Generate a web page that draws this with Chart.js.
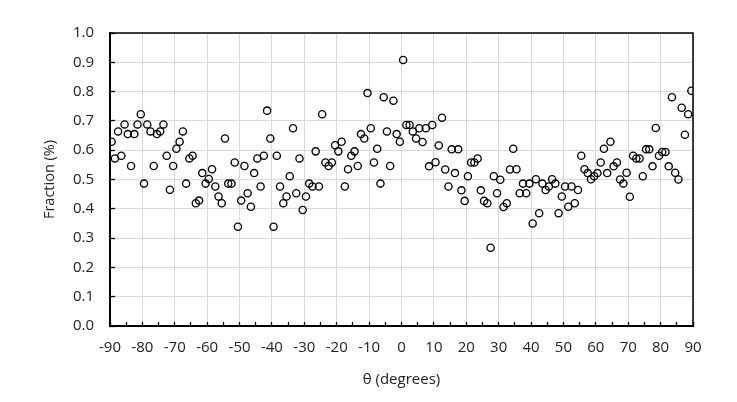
<!DOCTYPE html>
<html>
<head>
<meta charset="utf-8">
<script src="https://cdn.jsdelivr.net/npm/chart.js@4.4.1/dist/chart.umd.min.js"></script>
<style>
  html, body { margin: 0; padding: 0; background: #fff; }
  #wrap { width: 737px; height: 402px; }
</style>
</head>
<body>
<div id="wrap"><canvas id="c" width="737" height="402"></canvas></div>
<script>
const angles = [
  -89.5, -88.5, -87.5, -86.5, -85.5, -84.5, -83.5, -82.5, -81.5, -80.5,
  -79.5, -78.5, -77.5, -76.5, -75.5, -74.5, -73.5, -72.5, -71.5, -70.5,
  -69.5, -68.5, -67.5, -66.5, -65.5, -64.5, -63.5, -62.5, -61.5, -60.5,
  -59.5, -58.5, -57.5, -56.5, -55.5, -54.5, -53.5, -52.5, -51.5, -50.5,
  -49.5, -48.5, -47.5, -46.5, -45.5, -44.5, -43.5, -42.5, -41.5, -40.5,
  -39.5, -38.5, -37.5, -36.5, -35.5, -34.5, -33.5, -32.5, -31.5, -30.5,
  -29.5, -28.5, -27.5, -26.5, -25.5, -24.5, -23.5, -22.5, -21.5, -20.5,
  -19.5, -18.5, -17.5, -16.5, -15.5, -14.5, -13.5, -12.5, -11.5, -10.5,
  -9.5, -8.5, -7.5, -6.5, -5.5, -4.5, -3.5, -2.5, -1.5, -0.5,
  0.5, 1.5, 2.5, 3.5, 4.5, 5.5, 6.5, 7.5, 8.5, 9.5,
  10.5, 11.5, 12.5, 13.5, 14.5, 15.5, 16.5, 17.5, 18.5, 19.5,
  20.5, 21.5, 22.5, 23.5, 24.5, 25.5, 26.5, 27.5, 28.5, 29.5,
  30.5, 31.5, 32.5, 33.5, 34.5, 35.5, 36.5, 37.5, 38.5, 39.5,
  40.5, 41.5, 42.5, 43.5, 44.5, 45.5, 46.5, 47.5, 48.5, 49.5,
  50.5, 51.5, 52.5, 53.5, 54.5, 55.5, 56.5, 57.5, 58.5, 59.5,
  60.5, 61.5, 62.5, 63.5, 64.5, 65.5, 66.5, 67.5, 68.5, 69.5,
  70.5, 71.5, 72.5, 73.5, 74.5, 75.5, 76.5, 77.5, 78.5, 79.5,
  80.5, 81.5, 82.5, 83.5, 84.5, 85.5, 86.5, 87.5, 88.5, 89.5
];

const fractions = [
  0.629, 0.572, 0.664, 0.581, 0.688, 0.655, 0.546, 0.655, 0.688, 0.723,
  0.486, 0.688, 0.664, 0.546, 0.655, 0.664, 0.688, 0.581, 0.465, 0.546,
  0.605, 0.629, 0.664, 0.486, 0.572, 0.581, 0.419, 0.428, 0.522, 0.486,
  0.502, 0.535, 0.476, 0.442, 0.419, 0.640, 0.486, 0.486, 0.558, 0.339,
  0.428, 0.546, 0.453, 0.407, 0.522, 0.572, 0.476, 0.581, 0.735, 0.640,
  0.339, 0.581, 0.476, 0.419, 0.442, 0.511, 0.675, 0.453, 0.572, 0.396,
  0.442, 0.486, 0.476, 0.596, 0.476, 0.723, 0.558, 0.546, 0.558, 0.617,
  0.596, 0.629, 0.476, 0.535, 0.581, 0.596, 0.546, 0.655, 0.640, 0.795,
  0.675, 0.558, 0.605, 0.486, 0.781, 0.664, 0.546, 0.769, 0.655, 0.629,
  0.908, 0.686, 0.686, 0.664, 0.640, 0.675, 0.628, 0.675, 0.545, 0.686,
  0.559, 0.616, 0.711, 0.534, 0.476, 0.603, 0.522, 0.603, 0.463, 0.427,
  0.511, 0.558, 0.558, 0.572, 0.463, 0.427, 0.419, 0.267, 0.511, 0.453,
  0.499, 0.406, 0.419, 0.534, 0.605, 0.535, 0.453, 0.486, 0.453, 0.486,
  0.350, 0.501, 0.385, 0.486, 0.464, 0.476, 0.501, 0.486, 0.385, 0.442,
  0.476, 0.407, 0.476, 0.419, 0.464, 0.581, 0.535, 0.522, 0.501, 0.511,
  0.522, 0.558, 0.605, 0.522, 0.629, 0.545, 0.558, 0.500, 0.486, 0.523,
  0.441, 0.581, 0.572, 0.572, 0.511, 0.603, 0.603, 0.545, 0.676, 0.581,
  0.594, 0.594, 0.545, 0.781, 0.523, 0.500, 0.745, 0.653, 0.723, 0.803
];

const xTitle = 'θ (degrees)';
const yTitle = 'Fraction (%)';

const points = angles.map((a, i) => ({ x: a, y: fractions[i] }));

const frame = {
  id: 'frame',
  afterDatasetsDraw(chart) {
    const { ctx, chartArea: a } = chart;
    ctx.save();
    ctx.strokeStyle = '#000';
    ctx.lineWidth = 1.5;
    ctx.beginPath();
    ctx.moveTo(a.left, a.top);
    ctx.lineTo(a.right, a.top);
    ctx.lineTo(a.right, a.bottom);
    ctx.stroke();
    ctx.restore();
  }
};

const textColor = '#222';
const fontFamily = '"Open Sans", "DejaVu Sans", sans-serif';

new Chart(document.getElementById('c'), {
  type: 'scatter',
  data: {
    datasets: [{
      data: points,
      pointStyle: 'circle',
      pointRadius: 3.6,
      pointHoverRadius: 3.6,
      borderColor: '#000',
      backgroundColor: 'rgba(0,0,0,0)',
      borderWidth: 1.35
    }]
  },
  options: {
    responsive: false,
    animation: false,
    events: [],
    layout: { padding: { top: 33, right: 44, left: 0, bottom: 0 } },
    plugins: { legend: { display: false }, tooltip: { enabled: false } },
    scales: {
      x: {
        type: 'linear',
        min: -90, max: 90,
        afterFit(s) { s.height = 76; },
        ticks: {
          stepSize: 5,
          autoSkip: false,
          maxRotation: 0,
          padding: 17,
          color: textColor,
          font: { family: fontFamily, size: 15 },
          callback: v => (Math.round(v) % 10 === 0 ? String(Math.round(v)) : '')
        },
        grid: {
          color: c => (c.tick && Math.round(c.tick.value) % 10 === 0 ? '#d9d9d9' : 'rgba(0,0,0,0)'),
          lineWidth: 1,
          tickColor: '#000',
          tickLength: -4,
          tickWidth: 1.3
        },
        border: { color: '#000', width: 2 },
        title: {
          display: true,
          text: xTitle,
          color: textColor,
          font: { family: fontFamily, size: 15 },
          padding: { top: 13, bottom: 13 }
        }
      },
      y: {
        min: 0, max: 1,
        afterFit(s) { s.width = 110; },
        ticks: {
          stepSize: 0.1,
          padding: 21,
          color: textColor,
          font: { family: fontFamily, size: 15 },
          callback: v => v.toFixed(1)
        },
        grid: {
          color: '#d9d9d9',
          lineWidth: 1,
          tickColor: '#000',
          tickLength: -5,
          tickWidth: 1.3
        },
        border: { color: '#000', width: 2 },
        title: {
          display: true,
          text: yTitle,
          color: textColor,
          font: { family: fontFamily, size: 14.5 },
          padding: { top: 41, bottom: 41 }
        }
      }
    }
  },
  plugins: [frame]
});
</script>
</body>
</html>
